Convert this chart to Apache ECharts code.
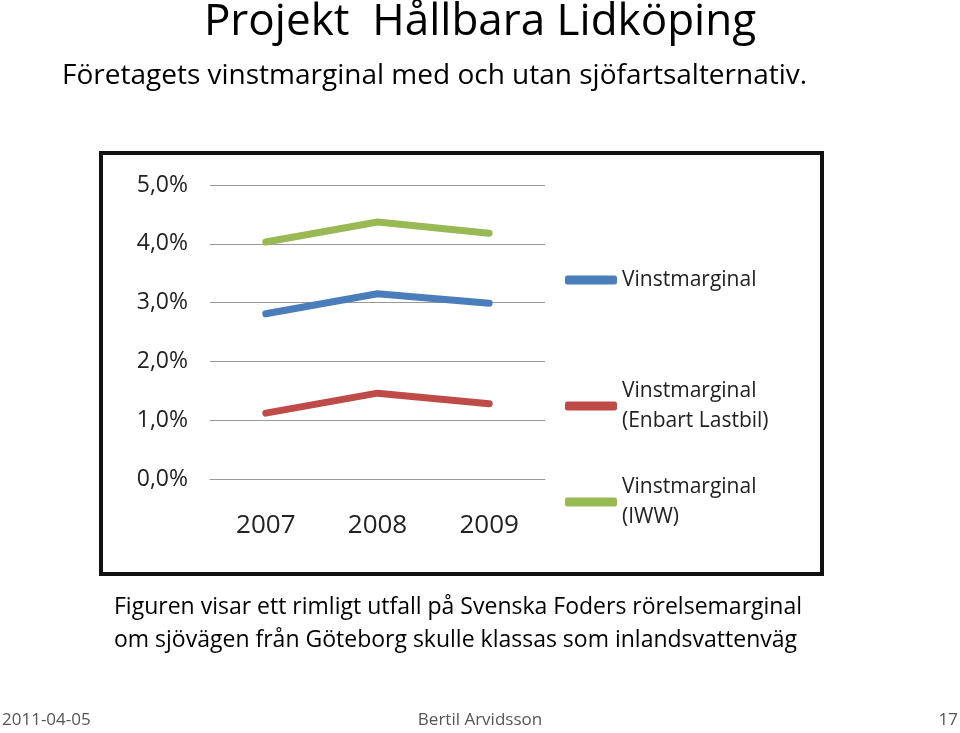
<!DOCTYPE html>
<html><head><meta charset="utf-8">
<script src="https://cdn.jsdelivr.net/npm/echarts@6/dist/echarts.min.js"></script>
<style>html,body{margin:0;padding:0;background:#fff}#c{width:960px;height:733px}</style>
</head><body><div id="c"></div>
<script>
const categories = ['2007','2008','2009'];
const vinst = [2.81, 3.15, 2.99];
const lastbil = [1.12, 1.46, 1.28];
const iww = [4.03, 4.37, 4.18];
const names = ['Vinstmarginal','Vinstmarginal\n(Enbart Lastbil)','Vinstmarginal\n(IWW)'];
const colors = ['#4a7ebb','#be4b48','#98b954'];
const F = 'Open Sans, Liberation Sans, sans-serif';
const chart = echarts.init(document.getElementById('c'));
const mk = (i, d) => ({name:names[i], type:'line', data:d, symbol:'none',
  lineStyle:{width:7, color:colors[i], cap:'round'}, itemStyle:{color:colors[i]}});
const leg = (i, top) => ({data:[names[i]], left:560, top:top, orient:'vertical', itemWidth:52, itemHeight:9,
  icon:'roundRect', textStyle:{fontFamily:F, fontSize:21, color:'#222', lineHeight:30}});
chart.setOption({
  animation:false,
  grid:{left:210, right:415, top:185, bottom:254},
  xAxis:{type:'category', data:categories, axisLine:{lineStyle:{color:'#999'}}, axisTick:{show:false},
    axisLabel:{fontFamily:F, fontSize:26, color:'#222', margin:34}},
  yAxis:{type:'value', min:0, max:5, interval:1, axisLine:{show:false}, axisTick:{show:false},
    splitLine:{lineStyle:{color:'#999', width:1}},
    axisLabel:{fontFamily:F, fontSize:23, color:'#222', margin:22, formatter:v=>v.toFixed(1).replace('.',',')+'%'}},
  legend:[leg(0,260), leg(1,371), leg(2,467)],
  series:[mk(0,vinst), mk(1,lastbil), mk(2,iww)],
  graphic:[
    {type:'rect', shape:{x:101,y:153,width:721,height:421}, style:{fill:'none', stroke:'#111', lineWidth:4}, z:-1},
    {type:'text', left:'center', top:0, style:{text:'Projekt  Hållbara Lidköping', font:'44px '+F, fill:'#000'}},
    {type:'text', left:62, top:62, style:{text:'Företagets vinstmarginal med och utan sjöfartsalternativ.', font:'28px '+F, fill:'#000'}},
    {type:'text', left:114, top:591, style:{text:'Figuren visar ett rimligt utfall på Svenska Foders rörelsemarginal\nom sjövägen från Göteborg skulle klassas som inlandsvattenväg', font:'23px '+F, fill:'#000', lineHeight:33}},
    {type:'text', left:2, top:712, style:{text:'2011-04-05', font:'17px '+F, fill:'#555'}},
    {type:'text', left:'center', top:712, style:{text:'Bertil Arvidsson', font:'17px '+F, fill:'#555'}},
    {type:'text', right:2, top:712, style:{text:'17', font:'17px '+F, fill:'#555'}}
  ]
});
</script></body></html>
